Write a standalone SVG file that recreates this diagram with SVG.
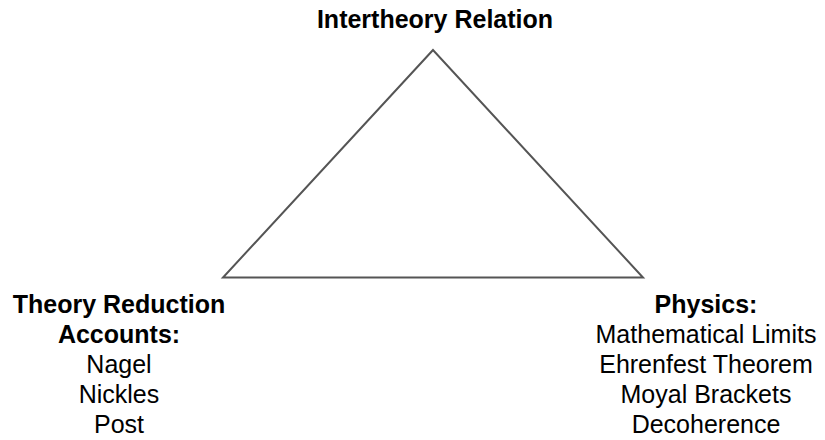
<svg xmlns="http://www.w3.org/2000/svg" width="825" height="440" viewBox="0 0 825 440">
<style>
.t{font-family:"Liberation Sans",Arial,Helvetica,sans-serif;font-size:25px;fill:#000;text-anchor:middle}
.b{font-weight:bold}
.edge{fill:none;stroke:#555;stroke-width:2;stroke-linejoin:miter}
</style>
<rect width="825" height="440" fill="#fff"/>
<g id="connectors">
<path class="edge" d="M433,50 L223,277.5 L643,277.5 Z"/>
</g>
<g id="node-top">
<text class="t b" x="435" y="28">Intertheory Relation</text>
</g>
<g id="node-left">
<text class="t b" x="119" y="313">Theory Reduction</text>
<text class="t b" x="119" y="343">Accounts:</text>
<text class="t" x="119" y="373">Nagel</text>
<text class="t" x="119" y="403">Nickles</text>
<text class="t" x="119" y="433">Post</text>
</g>
<g id="node-right">
<text class="t b" x="706" y="313">Physics:</text>
<text class="t" x="706" y="343">Mathematical Limits</text>
<text class="t" x="706" y="373">Ehrenfest Theorem</text>
<text class="t" x="706" y="403">Moyal Brackets</text>
<text class="t" x="706" y="433">Decoherence</text>
</g>
</svg>
